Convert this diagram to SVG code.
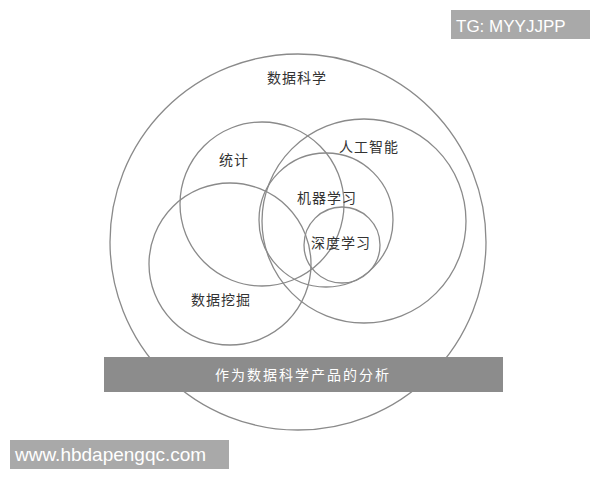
<svg xmlns="http://www.w3.org/2000/svg" width="600" height="480" viewBox="0 0 600 480">
<style>
.c{fill:none;stroke:#8a8a8a;stroke-width:1.3}
.t{font-family:"Liberation Serif","Noto Sans CJK SC",serif;font-size:14px;fill:#333;text-anchor:middle;letter-spacing:1px}
.w{font-family:"Liberation Sans","Noto Sans CJK SC",sans-serif;fill:#fff}
</style>
<rect width="600" height="480" fill="#fff"/>
<g id="data-science"><circle class="c" cx="298" cy="242" r="188"/><text class="t" x="297" y="83">数据科学</text></g>
<g id="statistics"><circle class="c" cx="262" cy="204" r="82"/><text class="t" x="234" y="165">统计</text></g>
<g id="data-mining"><circle class="c" cx="230" cy="264" r="81"/><text class="t" x="221" y="305">数据挖掘</text></g>
<g id="ai"><circle class="c" cx="364" cy="221" r="102"/><text class="t" x="369" y="152">人工智能</text></g>
<g id="ml"><circle class="c" cx="326" cy="220" r="67"/><text class="t" x="327" y="203">机器学习</text></g>
<g id="dl"><circle class="c" cx="342" cy="245" r="38"/><text class="t" x="341" y="248">深度学习</text></g>
<g id="connectors"></g>
<g id="banner"><rect x="104" y="357" width="399" height="35" fill="#8c8c8c"/><text class="w" x="303" y="380" font-size="14" text-anchor="middle" letter-spacing="2">作为数据科学产品的分析</text></g>
<g id="tg"><rect x="451" y="10" width="139" height="29" fill="#a9a9a9"/><text class="w" x="456" y="32" font-size="17">TG: MYYJJPP</text></g>
<g id="www"><rect x="10" y="440" width="219" height="29" fill="#a9a9a9"/><text class="w" x="15" y="461" font-size="19">www.hbdapengqc.com</text></g>
</svg>
